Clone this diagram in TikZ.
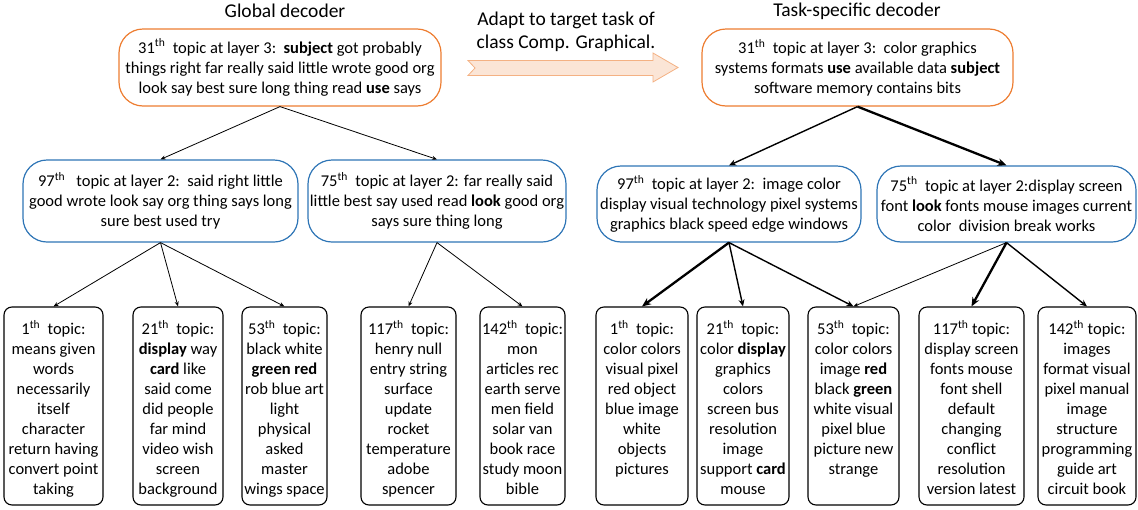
\documentclass[tikz,border=0pt]{standalone}
\usepackage{fontspec}
\setmainfont{Carlito}
\usetikzlibrary{arrows.meta}
\definecolor{borange}{RGB}{237,125,49}
\definecolor{bblue}{RGB}{46,117,182}
\definecolor{afill}{RGB}{251,229,214}
\definecolor{aline}{RGB}{244,177,131}
\newcommand\myfs{\fontsize{16.5}{20}\selectfont}
\newcommand\myttl{\fontsize{19.5}{23}\selectfont}
\newcommand\sth{\textsuperscript{th}}
\begin{document}
\begin{tikzpicture}[x=1pt,y=-1pt,
  obox/.style={draw=borange,line width=1.2pt,rounded corners=24pt,align=center,font=\myfs,inner sep=0pt},
  bbox/.style={draw=bblue,line width=1.2pt,rounded corners=24pt,align=center,font=\myfs,inner sep=0pt},
  kbox/.style={draw=black,line width=1.1pt,rounded corners=8pt,inner sep=0pt,minimum height=198pt},
  ktext/.style={anchor=north,align=center,font=\myfs,inner sep=0pt},
  ttl/.style={font=\myttl,align=center,inner sep=0pt},
  thin/.style={line width=0.8pt,-{Stealth[length=5pt,width=4pt]}},
  med/.style={line width=1.4pt,-{Stealth[length=7pt,width=6pt]}},
  thick/.style={line width=2.3pt,-{Stealth[length=9pt,width=7.5pt]}}
]
\useasboundingbox (0,0) rectangle (1138,509);

% titles
\node[ttl] (tg) at (285,11) {Global decoder};
\node[ttl] (tt) at (857,11) {Task-specific decoder};
\node[ttl] (ta) at (566,32) {Adapt to target task of\\class Comp. Graphical.};

% adapt arrow
\draw[fill=afill,draw=aline,line width=0.8pt]
  (468,60.5) -- (653,60.5) -- (653,53) -- (678,67.5) -- (653,82) -- (653,75.5) -- (468,75.5) -- (475,68) -- cycle;

% layer 3
\node[obox,minimum width=322pt,minimum height=77pt] (LO) at (280,67.5)
  {31\sth\ \ topic at layer 3:\ \ \textbf{subject} got probably\\things right far really said little wrote good org\\look say best sure long thing read \textbf{use} says};
\node[obox,minimum width=311pt,minimum height=77pt] (RO) at (857.5,67.5)
  {31\sth\ \ topic at layer 3:\ \ color graphics\\systems formats \textbf{use} available data \textbf{subject}\\software memory contains bits};

% layer 2
\node[bbox,minimum width=275pt,minimum height=82pt] (LB1) at (160.5,201)
  {97\sth\ \ \ topic at layer 2:\ \ said right little\\good wrote look say org thing says long\\sure best used try};
\node[bbox,minimum width=258pt,minimum height=82pt] (LB2) at (437,201)
  {75\sth\ \ topic at layer 2: far really said\\little best say used read \textbf{look} good org\\says sure thing long};
\node[bbox,minimum width=264pt,minimum height=76pt] (RB1) at (729,204)
  {97\sth\ \ topic at layer 2:\ \ image color\\display visual technology pixel systems\\graphics black speed edge windows};
\node[bbox,minimum width=259pt,minimum height=76pt] (RB2) at (1006.5,204)
  {75\sth\ \ topic at layer 2:display screen\\font \textbf{look} fonts mouse images current\\color\ \ division break works};

% layer 1 boxes
\node[kbox,minimum width=99pt] (L1) at (53.5,406) {};
\node[kbox,minimum width=90pt] (L2) at (178,406) {};
\node[kbox,minimum width=85pt] (L3) at (284.5,406) {};
\node[kbox,minimum width=95pt] (L4) at (408.5,406) {};
\node[kbox,minimum width=85pt] (L5) at (522.5,406) {};
\node[kbox,minimum width=92pt] (R1) at (642,406) {};
\node[kbox,minimum width=92pt] (R2) at (743,406) {};
\node[kbox,minimum width=91pt] (R3) at (853.5,406) {};
\node[kbox,minimum width=105pt] (R4) at (971.5,406) {};
\node[kbox,minimum width=98pt] (R5) at (1087,406) {};

\node[ktext] (L1t) at ([yshift=-14pt]L1.north) {1\sth\ \ topic:\\means given\\words\\necessarily\\itself\\character\\return having\\convert point\\taking};
\node[ktext] (L2t) at ([yshift=-14pt]L2.north) {21\sth\ \ topic:\\\textbf{display} way\\\textbf{card} like\\said come\\did people\\far mind\\video wish\\screen\\background};
\node[ktext] (L3t) at ([yshift=-14pt]L3.north) {53\sth\ \ topic:\\black white\\\textbf{green red}\\rob blue art\\light\\physical\\asked\\master\\wings space};
\node[ktext] (L4t) at ([yshift=-14pt]L4.north) {117\sth\ \ topic:\\henry null\\entry string\\surface\\update\\rocket\\temperature\\adobe\\spencer};
\node[ktext] (L5t) at ([yshift=-14pt]L5.north) {142\sth\ \ topic:\\mon\\articles rec\\earth serve\\men field\\solar van\\book race\\study moon\\bible};
\node[ktext] (R1t) at ([yshift=-14pt]R1.north) {1\sth\ \ topic:\\color colors\\visual pixel\\red object\\blue image\\white\\objects\\pictures};
\node[ktext] (R2t) at ([yshift=-14pt]R2.north) {21\sth\ \ topic:\\color \textbf{display}\\graphics\\colors\\screen bus\\resolution\\image\\support \textbf{card}\\mouse};
\node[ktext] (R3t) at ([yshift=-14pt]R3.north) {53\sth\ \ topic:\\color colors\\image \textbf{red}\\black \textbf{green}\\white visual\\pixel blue\\picture new\\strange};
\node[ktext] (R4t) at ([yshift=-14pt]R4.north) {117\sth\ topic:\\display screen\\fonts mouse\\font shell\\default\\changing\\conflict\\resolution\\version latest};
\node[ktext] (R5t) at ([yshift=-14pt]R5.north) {142\sth\ topic:\\images\\format visual\\pixel manual\\image\\structure\\programming\\guide art\\circuit book};

% connectors left
\draw[thin] (LO.south) -- (LB1.north);
\draw[thin] (LO.south) -- (LB2.north);
\draw[thin] (LB1.south) -- (L1.north);
\draw[thin] (LB1.south) -- (L2.north);
\draw[thin] (LB1.south) -- (L3.north);
\draw[thin] (LB2.south) -- (L4.north);
\draw[thin] (LB2.south) -- (L5.north);
% connectors right
\draw[med] (RO.south) -- (RB1.north);
\draw[thick] (RO.south) -- (RB2.north);
\draw[thick] (RB1.south) -- (R1.north);
\draw[med] (RB1.south) -- (R2.north);
\draw[med] (RB1.south) -- (R3.north);
\draw[thin] (RB2.south) -- (R3.north);
\draw[thick] (RB2.south) -- (R4.north);
\draw[med] (RB2.south) -- (R5.north);
\end{tikzpicture}
\end{document}
